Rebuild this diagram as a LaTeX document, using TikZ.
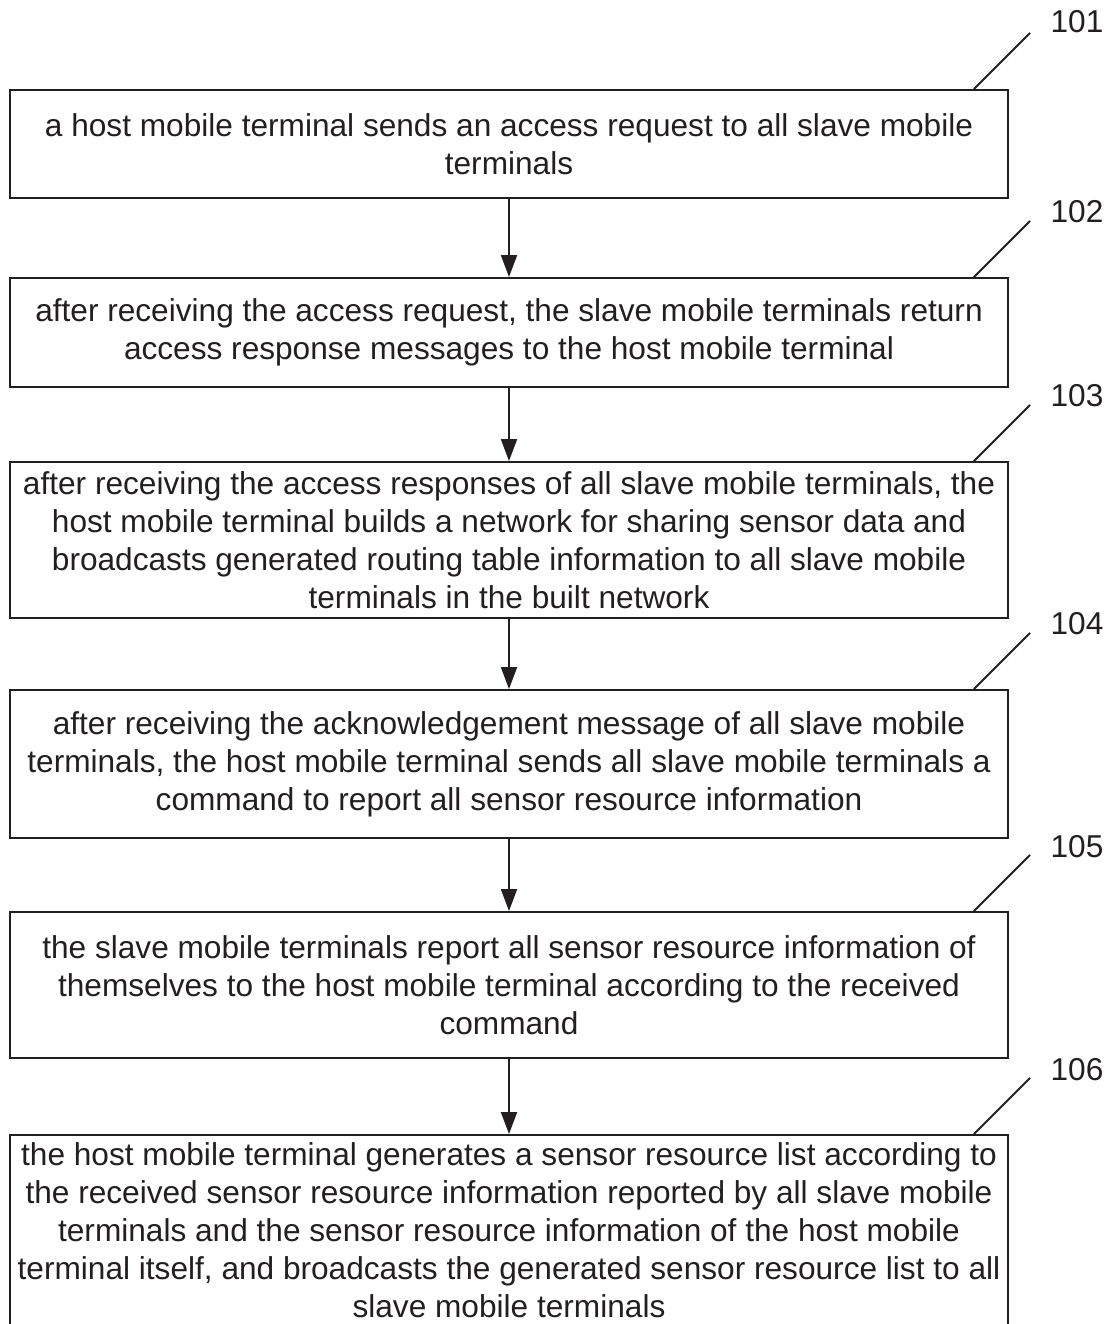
\documentclass[tikz,border=0pt]{standalone}
\usepackage{fontspec}
\setmainfont{Liberation Sans}
\usetikzlibrary{arrows.meta}
\definecolor{InkBlack}{HTML}{231F20}

\begin{document}
\begin{tikzpicture}[x=0.02cm, y=-0.02cm,
		stepbox/.style={draw=InkBlack, line width=1.1pt, rectangle, inner sep=0pt,
			minimum width=19.96cm, align=center, text=InkBlack,
			font=\fontsize{18pt}{21.6pt}\selectfont},
		flow/.style={-{Triangle[width=0.32cm, length=0.44cm]}, line width=1.1pt, InkBlack},
		leader/.style={line width=1.1pt, InkBlack},
		tag/.style={text=InkBlack, inner sep=0pt, font=\fontsize{18pt}{21.6pt}\selectfont}]
	\useasboundingbox (0,0) rectangle (1110,1324);

	% the six steps
	\node[stepbox, minimum height=2.16cm] (b101) at (509,144)
		{a host mobile terminal sends an access request to all slave mobile\\
		 terminals};
	\node[stepbox, minimum height=2.18cm] (b102) at (509,332.5)
		{after receiving the access request, the slave mobile terminals return\\
		 access response messages to the host mobile terminal};
	\node[stepbox, minimum height=3.12cm] (b103) at (509,540)
		{after receiving the access responses of all slave mobile terminals, the\\
		 host mobile terminal builds a network for sharing sensor data and\\
		 broadcasts generated routing table information to all slave mobile\\
		 terminals in the built network};
	\node[stepbox, minimum height=2.96cm] (b104) at (509,764)
		{after receiving the acknowledgement message of all slave mobile\\
		 terminals, the host mobile terminal sends all slave mobile terminals a\\
		 command to report all sensor resource information};
	\node[stepbox, minimum height=2.92cm] (b105) at (509,985)
		{the slave mobile terminals report all sensor resource information of\\
		 themselves to the host mobile terminal according to the received\\
		 command};
	\node[stepbox, minimum height=3.82cm] (b106) at (509,1230.5)
		{the host mobile terminal generates a sensor resource list according to\\
		 the received sensor resource information reported by all slave mobile\\
		 terminals and the sensor resource information of the host mobile\\
		 terminal itself, and broadcasts the generated sensor resource list to all\\
		 slave mobile terminals};

	% arrows between steps
	\draw[flow] (b101.south) -- (b102.north);
	\draw[flow] (b102.south) -- (b103.north);
	\draw[flow] (b103.south) -- (b104.north);
	\draw[flow] (b104.south) -- (b105.north);
	\draw[flow] (b105.south) -- (b106.north);

	% reference numerals
	\node[tag] (n101) at (1077,22) {101};
	\node[tag] (n102) at (1077,212) {102};
	\node[tag] (n103) at (1077,396) {103};
	\node[tag] (n104) at (1077,624) {104};
	\node[tag] (n105) at (1077,847) {105};
	\node[tag] (n106) at (1077,1070) {106};
	\coordinate (e101) at (1030,33);
	\coordinate (e102) at (1030,221);
	\coordinate (e103) at (1030,405);
	\coordinate (e104) at (1030,633);
	\coordinate (e105) at (1030,855);
	\coordinate (e106) at (1030,1078);
	\draw[leader] ([xshift=-0.7cm]b101.north east) -- (e101);
	\draw[leader] ([xshift=-0.7cm]b102.north east) -- (e102);
	\draw[leader] ([xshift=-0.7cm]b103.north east) -- (e103);
	\draw[leader] ([xshift=-0.7cm]b104.north east) -- (e104);
	\draw[leader] ([xshift=-0.7cm]b105.north east) -- (e105);
	\draw[leader] ([xshift=-0.7cm]b106.north east) -- (e106);
\end{tikzpicture}
\end{document}
